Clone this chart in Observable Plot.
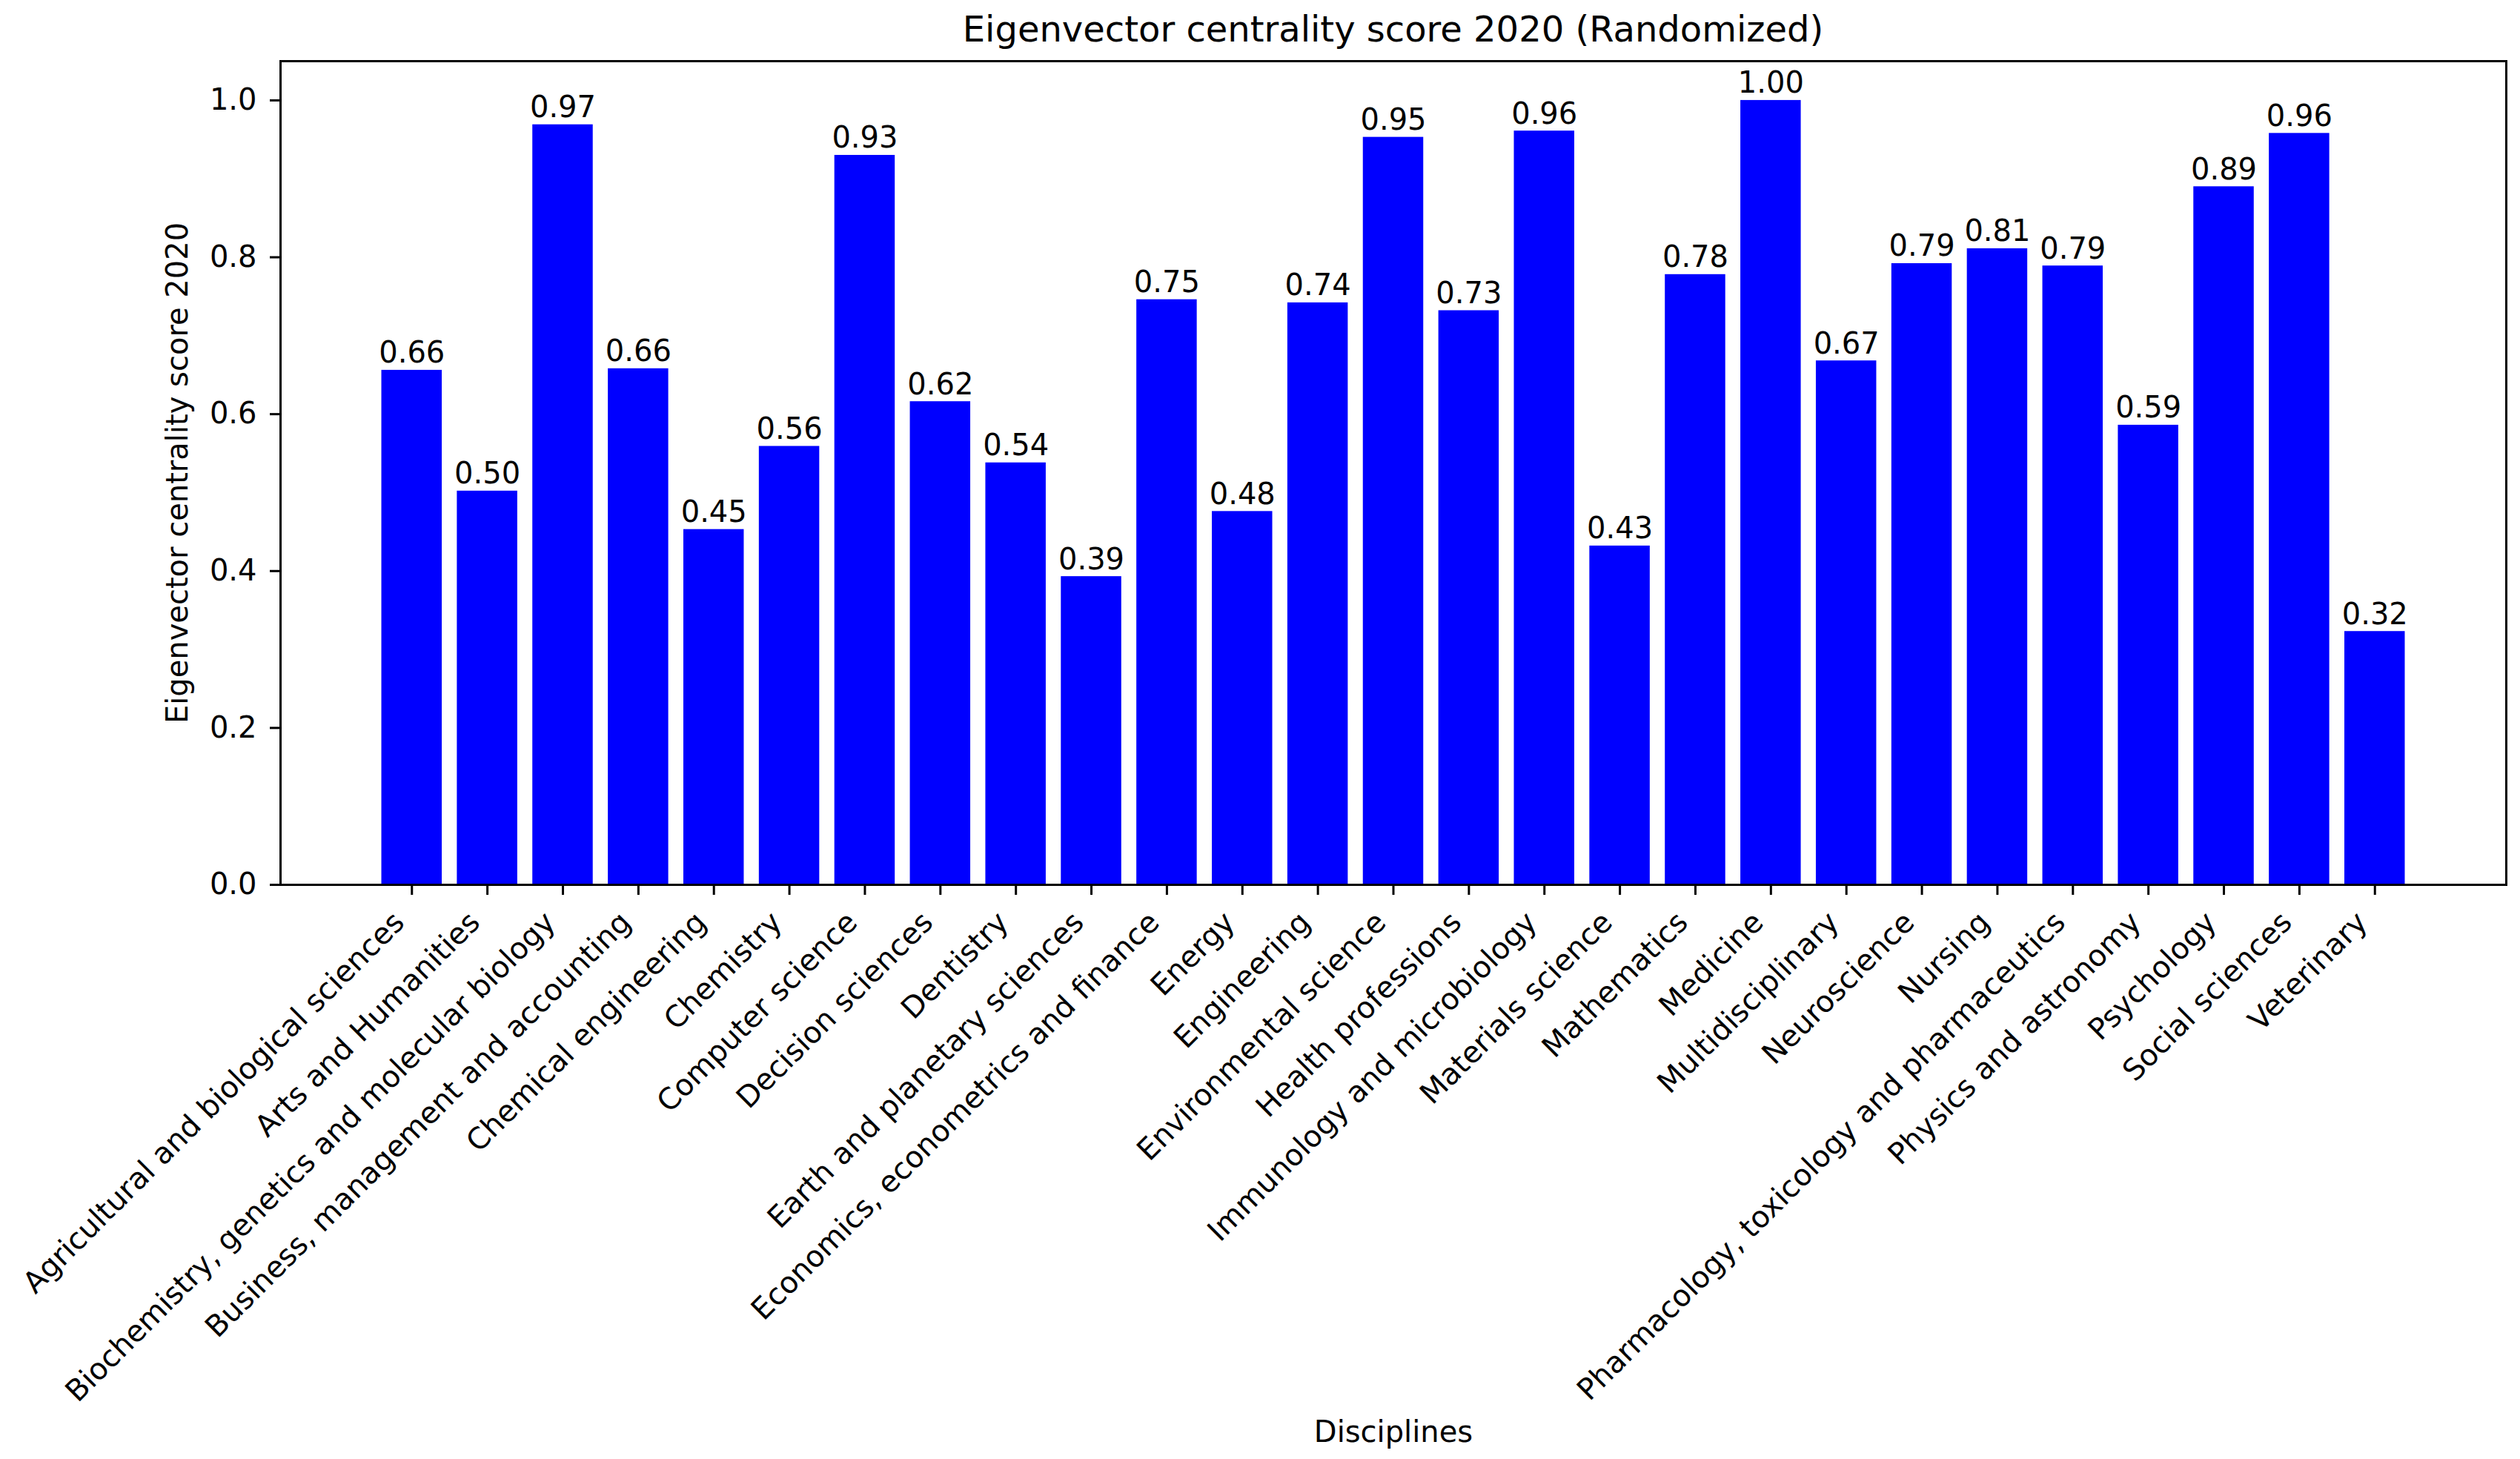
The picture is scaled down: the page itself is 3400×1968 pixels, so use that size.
<!DOCTYPE html>
<html><head><meta charset="utf-8">
<script src="https://cdn.jsdelivr.net/npm/d3@7"></script>
<script src="https://cdn.jsdelivr.net/npm/@observablehq/plot@0.6"></script>
<style>
body{margin:0;background:#fff;width:3400px;height:1968px;overflow:hidden;font-family:"DejaVu Sans";}
#title{margin-left:378px;width:3003px;height:78px;line-height:78px;text-align:center;font-size:48px;color:#000;white-space:nowrap;}
#chart svg{display:block;}
</style></head><body>
<div id="title"></div>
<div id="chart"></div>
<script>
const titleText = "Eigenvector centrality score 2020 (Randomized)";
const yLabel = "Eigenvector centrality score 2020";
const xLabel = "Disciplines";
const disciplines = [
  "Agricultural and biological sciences",
  "Arts and Humanities",
  "Biochemistry, genetics and molecular biology",
  "Business, management and accounting",
  "Chemical engineering",
  "Chemistry",
  "Computer science",
  "Decision sciences",
  "Dentistry",
  "Earth and planetary sciences",
  "Economics, econometrics and finance",
  "Energy",
  "Engineering",
  "Environmental science",
  "Health professions",
  "Immunology and microbiology",
  "Materials science",
  "Mathematics",
  "Medicine",
  "Multidisciplinary",
  "Neuroscience",
  "Nursing",
  "Pharmacology, toxicology and pharmaceutics",
  "Physics and astronomy",
  "Psychology",
  "Social sciences",
  "Veterinary"
];
const scores = [0.656, 0.502, 0.969, 0.658, 0.453, 0.559, 0.930, 0.616, 0.538, 0.393,
  0.746, 0.476, 0.742, 0.953, 0.732, 0.961, 0.432, 0.778, 1.000, 0.668,
  0.792, 0.811, 0.789, 0.586, 0.890, 0.958, 0.323];
const yTicks = [0.0, 0.2, 0.4, 0.6, 0.8, 1.0];

document.getElementById("title").textContent = titleText;
const data = disciplines.map((d, i) => ({discipline: d, score: scores[i]}));

const chart = Plot.plot({
  width: 3400, height: 1890,
  marginTop: 4, marginRight: 19, marginBottom: 775, marginLeft: 378,
  style: {fontFamily: "DejaVu Sans", fontSize: "40px", color: "#000", background: "#fff"},
  x: {domain: disciplines, paddingInner: 0.2, paddingOuter: 1.34, round: false, label: null},
  y: {domain: [0, 1.05], label: null},
  marks: [
    Plot.barY(data, {x: "discipline", y: "score", fill: "#0000ff"}),
    Plot.text(data, {x: "discipline", y: "score", text: d => d.score.toFixed(2), lineAnchor: "bottom", dy: -10, fontSize: 40, fill: "#000"}),
    Plot.axisY({ticks: yTicks, tickFormat: d => d.toFixed(1), tickSize: 14, tickPadding: 18, strokeWidth: 3, fontSize: 40, label: null}),
    Plot.axisX({tickSize: 14, strokeWidth: 3, text: null, label: null}),
    Plot.axisX({tickSize: 0, tickRotate: -45, tickPadding: 44, dx: -17, fontSize: 40, label: null}),
    Plot.frame({stroke: "#000", strokeWidth: 3}),
    Plot.text([yLabel], {frameAnchor: "left", dx: -138, rotate: -90, text: d => d, textAnchor: "middle", lineAnchor: "middle", fontSize: 40}),
    Plot.text([xLabel], {frameAnchor: "bottom", dy: 739, text: d => d, textAnchor: "middle", lineAnchor: "middle", fontSize: 40})
  ]
});
document.getElementById("chart").appendChild(chart);
</script>
</body></html>
